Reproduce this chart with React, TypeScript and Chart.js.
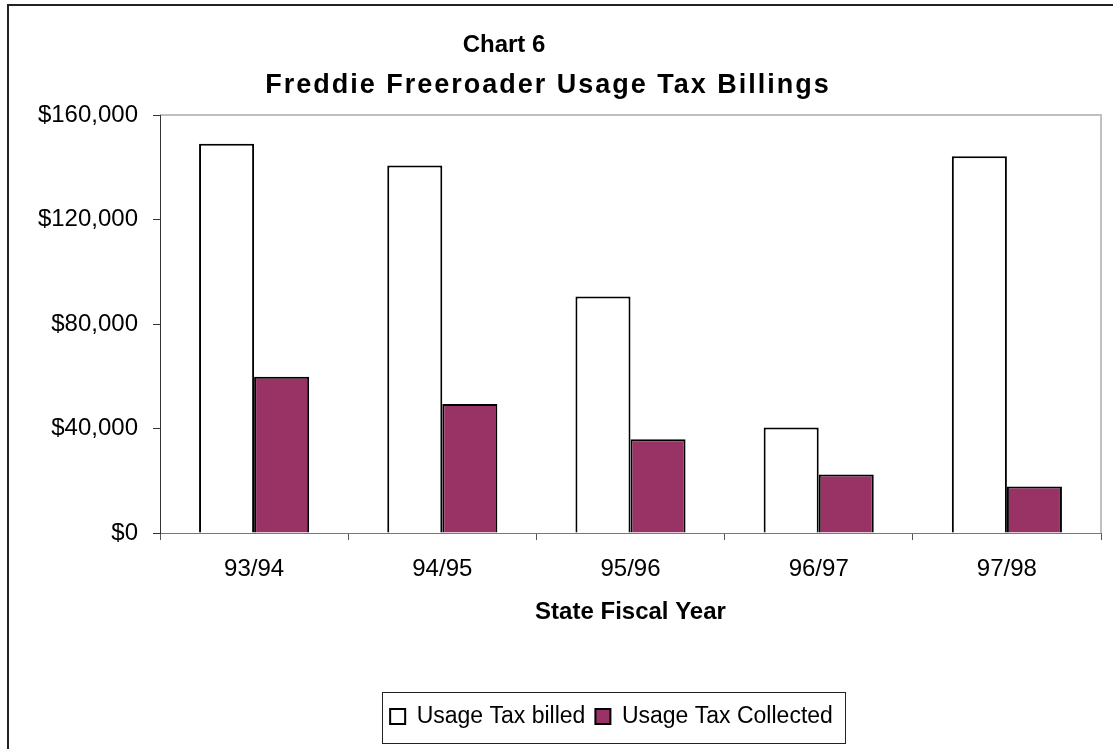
import React, { useEffect, useRef } from "react";
import { Chart, registerables } from "chart.js";

Chart.register(...registerables);

const categories = ["93/94", "94/95", "95/96", "96/97", "97/98"];
const billed = [149000, 140700, 90500, 40400, 144200];
const collected = [59800, 49400, 35900, 22400, 17800];
const yTicks = [0, 40000, 80000, 120000, 160000];
const seriesNames = ["Usage Tax billed", "Usage Tax Collected"];
const titleLines = ["Chart 6", "Freddie Freeroader Usage Tax Billings"];
const xTitle = "State Fiscal Year";

const FONT = "'Liberation Sans', Arial, sans-serif";

const decorPlugin = {
  id: "decor",
  afterLayout(chart: any) {
    const lg = chart.legend;
    if (lg) {
      lg.left += 61;
      lg.right += 61;
    }
  },
  beforeDraw(chart: any) {
    const { ctx, chartArea } = chart;
    ctx.save();
    ctx.fillStyle = "#ffffff";
    ctx.fillRect(0, 0, chart.width, chart.height);
    ctx.strokeStyle = "#222222";
    ctx.lineWidth = 2;
    ctx.strokeRect(8, 5, chart.width + 40, chart.height + 40);
    ctx.strokeStyle = "#c0c0c0";
    ctx.lineWidth = 2;
    ctx.beginPath();
    ctx.moveTo(chartArea.left, chartArea.top);
    ctx.lineTo(chartArea.right, chartArea.top);
    ctx.lineTo(chartArea.right, chartArea.bottom);
    ctx.stroke();
    ctx.restore();
  },
  afterDraw(chart: any) {
    const { ctx } = chart;
    ctx.save();
    ctx.fillStyle = "#000";
    ctx.textAlign = "center";
    ctx.textBaseline = "middle";
    ctx.font = "bold 24px " + FONT;
    ctx.fillText(titleLines[0], 504, 45);
    ctx.font = "bold 27px " + FONT;
    try {
      (ctx as any).letterSpacing = "2px";
    } catch (e) {}
    ctx.fillText(titleLines[1], 548, 86);
    try {
      (ctx as any).letterSpacing = "0px";
    } catch (e) {}
    const lg = chart.legend;
    if (lg && lg.legendHitBoxes && lg.legendHitBoxes.length) {
      const hb = lg.legendHitBoxes;
      let l = Infinity, r = -Infinity, t = Infinity, b = -Infinity;
      hb.forEach((h: any) => {
        l = Math.min(l, h.left);
        r = Math.max(r, h.left + h.width);
        t = Math.min(t, h.top);
        b = Math.max(b, h.top + h.height);
      });
      const cy = (t + b) / 2;
      ctx.strokeStyle = "#222";
      ctx.lineWidth = 1;
      ctx.strokeRect(Math.round(l - 8) + 0.5, Math.round(cy - 25) + 0.5, Math.round(r - l + 20), 51);
    }
    ctx.restore();
  },
};

export default function App() {
  const ref = useRef<HTMLCanvasElement>(null);
  useEffect(() => {
    if (!ref.current) return;
    Chart.defaults.font.family = FONT;
    const chart = new Chart(ref.current, {
      type: "bar",
      data: {
        labels: categories,
        datasets: [
          {
            label: seriesNames[0],
            data: billed,
            backgroundColor: "#ffffff",
            borderColor: "#000000",
            borderWidth: 2,
            categoryPercentage: 0.585,
            barPercentage: 1,
          },
          {
            label: seriesNames[1],
            data: collected,
            backgroundColor: "#993366",
            borderColor: "#000000",
            borderWidth: 2,
            categoryPercentage: 0.585,
            barPercentage: 1,
          },
        ],
      },
      options: {
        responsive: false,
        animation: false,
        events: [],
        layout: { padding: { left: 0, right: 12, top: 115, bottom: 11 } },
        plugins: {
          title: { display: false },
          tooltip: { enabled: false },
          legend: {
            position: "bottom",
            labels: {
              color: "#000",
              font: { size: 23, family: FONT },
              boxWidth: 15,
              boxHeight: 15,
              padding: 10,
            },
          },
        },
        scales: {
          x: {
            grid: {
              drawOnChartArea: false,
              drawTicks: true,
              tickLength: 7,
              color: "#555",
              offset: true,
            },
            border: { color: "#777", width: 1 },
            ticks: { color: "#000", font: { size: 24, family: FONT }, padding: 15 },
            title: {
              display: true,
              text: xTitle,
              color: "#000",
              font: { size: 24, weight: "bold", family: FONT },
              padding: { top: 14, bottom: 68 },
            },
            afterFit(scale: any) {
              scale.height = 162;
            },
          },
          y: {
            min: 0,
            max: 160000,
            afterBuildTicks(scale: any) {
              scale.ticks = yTicks.map((v) => ({ value: v }));
            },
            grid: {
              drawOnChartArea: false,
              drawTicks: true,
              tickLength: 7,
              color: "#333",
            },
            border: { color: "#333", width: 1 },
            ticks: {
              color: "#000",
              font: { size: 24, family: FONT },
              padding: 15,
              callback: (v: any) => "$" + Number(v).toLocaleString("en-US"),
            },
            afterFit(scale: any) {
              scale.width = 160;
            },
          },
        },
      },
      plugins: [decorPlugin],
    });
    return () => chart.destroy();
  }, []);
  return (
    <div style={{ position: "fixed", left: 0, top: 0, width: 1113, height: 749, background: "#fff" }}>
      <canvas ref={ref} width={1113} height={749} style={{ display: "block" }} />
    </div>
  );
}
